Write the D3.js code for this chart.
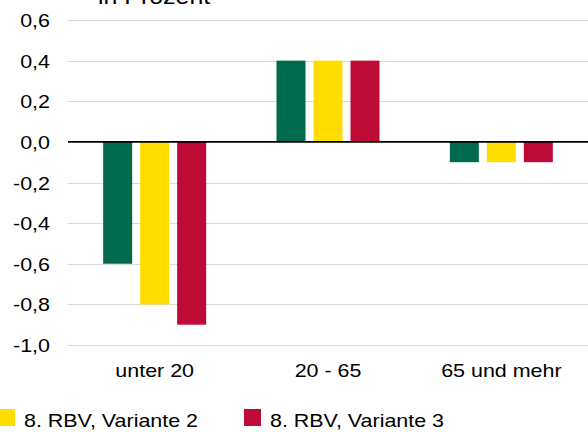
<!DOCTYPE html>
<html>
<head>
<meta charset="utf-8">
<script src="https://cdn.jsdelivr.net/npm/d3@7"></script>
<style>
  body { margin: 0; background: #fff; }
  svg { display: block; }
  text { font-family: "Liberation Sans", Arial, sans-serif; fill: #000; }
</style>
</head>
<body>
<div class="chart"></div>
<script>
// data
const categories = ["unter 20", "20 - 65", "65 und mehr"];
const seriesNames = ["8. RBV, Variante 1", "8. RBV, Variante 2", "8. RBV, Variante 3"];
const seriesColors = ["#006a4e", "#ffdd00", "#be0a36"];
const variante1 = [-0.6, 0.4, -0.1];
const variante2 = [-0.8, 0.4, -0.1];
const variante3 = [-0.9, 0.4, -0.1];
const yTicks = [0.6, 0.4, 0.2, 0.0, -0.2, -0.4, -0.6, -0.8, -1.0];
const legendItems = ["8. RBV, Variante 2", "8. RBV, Variante 3"];

const values = [variante1, variante2, variante3];
const data = categories.map((c, i) => ({
    cat: c,
    vals: seriesNames.map((s, j) => ({series: s, value: values[j][i], color: seriesColors[j]}))
}));

const width = 588, height = 432;
const sx = 1.16; // text is a bit wider than tall in the original

const svg = d3.select(".chart").append("svg")
    .attr("width", width)
    .attr("height", height);

let xScale = d3.scaleBand()
    .domain(categories)
    .range([68, 588])
    .padding(0);

let x1 = d3.scaleBand()
    .domain(seriesNames)
    .range([-51.5, 51.5])
    .paddingInner(0.216)
    .paddingOuter(0);

let yScale = d3.scaleLinear()
    .domain([-1, 0.6])
    .range([345, 20]);

function label(g, x, y, str, size, anchor) {
    return g.append("text")
        .attr("transform", `translate(${x},${y}) scale(${sx},1)`)
        .attr("text-anchor", anchor)
        .style("font-size", size + "px")
        .text(str);
}

// gridlines
svg.append("g")
    .selectAll("line")
    .data(yTicks.filter(d => d !== 0))
    .enter()
    .append("line")
    .attr("x1", 68)
    .attr("x2", 588)
    .attr("y1", d => Math.round(yScale(d)) + 0.5)
    .attr("y2", d => Math.round(yScale(d)) + 0.5)
    .attr("stroke", "#d9d9d9")
    .attr("stroke-width", 1.2);

// bars
let groups = svg.selectAll(".grp")
    .data(data)
    .enter()
    .append("g")
    .attr("class", "grp")
    .attr("transform", d => `translate(${xScale(d.cat) + xScale.bandwidth() / 2},0)`);

groups.selectAll("rect")
    .data(d => d.vals)
    .enter()
    .append("rect")
    .attr("x", d => x1(d.series))
    .attr("width", x1.bandwidth())
    .attr("y", d => yScale(Math.max(0, d.value)))
    .attr("height", d => Math.abs(yScale(d.value) - yScale(0)))
    .attr("fill", d => d.color);

// zero line
svg.append("line")
    .attr("x1", 68)
    .attr("x2", 588)
    .attr("y1", yScale(0))
    .attr("y2", yScale(0))
    .attr("stroke", "#000")
    .attr("stroke-width", 1.6);

// y tick labels
yTicks.forEach(t => {
    label(svg, 50, yScale(t) + 7, d3.format(".1f")(t).replace(".", ",").replace("−", "-"), 18.5, "end");
});

// category labels
categories.forEach(c => {
    label(svg, xScale(c) + xScale.bandwidth() / 2, 377, c, 18.5, "middle");
});

// title (cut at the top)
label(svg, 98, 4, "in Prozent", 21.5, "start");

// legend
const legX = [-2, 244];
legendItems.forEach((name, i) => {
    const idx = seriesNames.indexOf(name);
    svg.append("rect")
        .attr("x", legX[i])
        .attr("y", 409)
        .attr("width", 17)
        .attr("height", 17)
        .attr("fill", seriesColors[idx]);
    label(svg, legX[i] + 26, 427, name, 18.5, "start");
});
</script>
</body>
</html>
